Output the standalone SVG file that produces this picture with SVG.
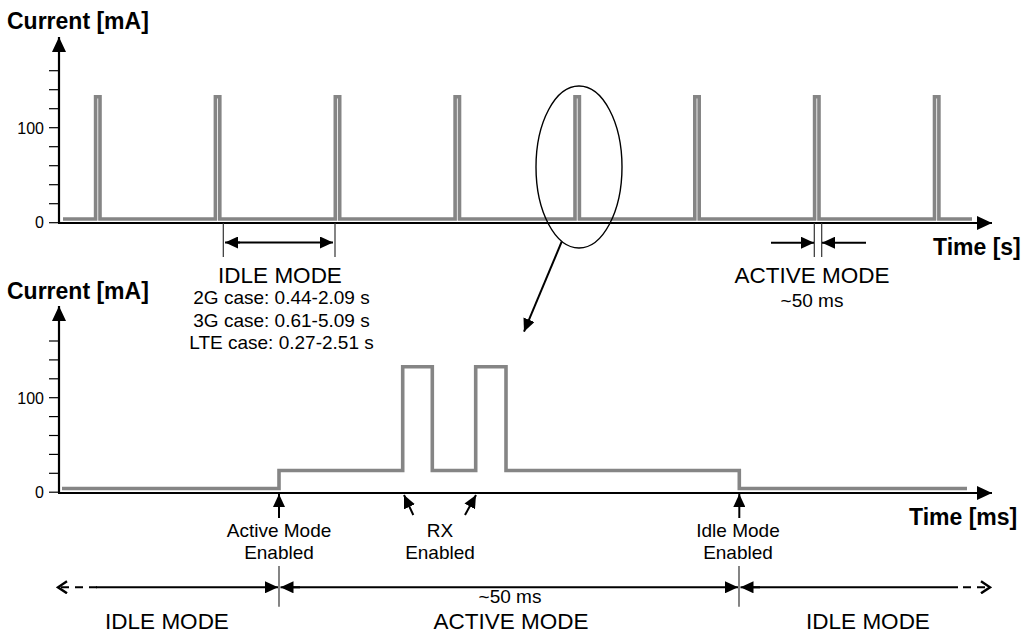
<svg xmlns="http://www.w3.org/2000/svg" width="1022" height="632" viewBox="0 0 1022 632">
<style>
text{font-family:"Liberation Sans",Arial,sans-serif;fill:#000}
.b{font-weight:bold;font-size:23px}
.big{font-size:22.5px;text-anchor:middle}
.sm{font-size:19px;text-anchor:middle}
.tk{font-size:16px;text-anchor:end}
.axis{stroke:#000;stroke-width:2.2;fill:none}
.tick{stroke:#000;stroke-width:1.2}
.sig{stroke:#858585;stroke-width:3.6;fill:none;stroke-linejoin:miter}
.thin{stroke:#333;stroke-width:1.2}
.arr{stroke:#000;stroke-width:2;fill:none}
.dash{stroke:#000;stroke-width:2;fill:none;stroke-dasharray:8,6}
</style>
<defs>
<marker id="ah" markerUnits="userSpaceOnUse" markerWidth="14" markerHeight="12" refX="13" refY="6" orient="auto"><path d="M0,0 L13,6 L0,12 z" fill="#000"/></marker>
<marker id="axh" markerUnits="userSpaceOnUse" markerWidth="16" markerHeight="14" refX="15" refY="7" orient="auto"><path d="M0,0 L15,7 L0,14 z" fill="#000"/></marker>
<marker id="oh" markerUnits="userSpaceOnUse" markerWidth="12" markerHeight="14" refX="10" refY="7" orient="auto"><path d="M1,1 L10,7 L1,13" fill="none" stroke="#000" stroke-width="2.4"/></marker>
</defs>

<g id="top-chart">
<text class="b" x="7" y="28.5">Current [mA]</text>
<line class="axis" x1="59" y1="223" x2="59" y2="37" marker-end="url(#axh)"/>
<line class="axis" x1="58" y1="223" x2="992" y2="223" marker-end="url(#axh)"/>
<g class="tick">
<line x1="49" y1="70.7" x2="59" y2="70.7"/><line x1="49" y1="89.7" x2="59" y2="89.7"/><line x1="49" y1="108.7" x2="59" y2="108.7"/><line x1="49" y1="127.7" x2="59" y2="127.7"/><line x1="49" y1="146.7" x2="59" y2="146.7"/><line x1="49" y1="165.7" x2="59" y2="165.7"/><line x1="49" y1="184.7" x2="59" y2="184.7"/><line x1="49" y1="203.7" x2="59" y2="203.7"/><line x1="49" y1="222.7" x2="59" y2="222.7"/>
</g>
<text class="tk" x="44" y="133.5">100</text>
<text class="tk" x="44" y="228">0</text>
<path class="sig" d="M63,219 H95.6 V96.8 H100 V219 H215.4 V96.8 H219.8 V219 H335.3 V96.8 H339.7 V219 H455.1 V96.8 H459.5 V219 H575 V96.8 H579.4 V219 H694.8 V96.8 H699.2 V219 H814.6 V96.8 H819 V219 H934.5 V96.8 H938.9 V219 H972"/>
<text class="b" x="933" y="255">Time [s]</text>
</g>

<g id="idle-mode-top">
<line class="thin" x1="223.3" y1="223" x2="223.3" y2="257"/>
<line class="thin" x1="335" y1="223" x2="335" y2="257"/>
<line class="arr" x1="240" y1="242.5" x2="225" y2="242.5" marker-end="url(#ah)"/>
<line class="arr" x1="230" y1="242.5" x2="333" y2="242.5" marker-end="url(#ah)"/>
<text class="big" x="280" y="283.3">IDLE MODE</text>
<text class="sm" x="281.5" y="304">2G case: 0.44-2.09 s</text>
<text class="sm" x="281.5" y="327">3G case: 0.61-5.09 s</text>
<text class="sm" x="281.5" y="349">LTE case: 0.27-2.51 s</text>
</g>

<g id="active-mode-top">
<line class="thin" x1="814.3" y1="223" x2="814.3" y2="257"/>
<line class="thin" x1="821.7" y1="223" x2="821.7" y2="257"/>
<line class="arr" x1="771" y1="242.7" x2="814" y2="242.7" marker-end="url(#ah)"/>
<line class="arr" x1="866" y1="242.7" x2="822" y2="242.7" marker-end="url(#ah)"/>
<text class="big" x="812" y="283.3">ACTIVE MODE</text>
<text class="sm" x="812" y="307">~50 ms</text>
</g>

<g id="zoom-callout">
<ellipse cx="579" cy="167" rx="43" ry="81" fill="none" stroke="#000" stroke-width="1.4"/>
<line class="arr" x1="561.7" y1="241.7" x2="524" y2="331.7" marker-end="url(#ah)"/>
</g>

<g id="bottom-chart">
<text class="b" x="7" y="299.3">Current [mA]</text>
<line class="axis" x1="59" y1="493" x2="59" y2="306" marker-end="url(#axh)"/>
<line class="axis" x1="58" y1="493" x2="992" y2="493" marker-end="url(#axh)"/>
<g class="tick">
<line x1="49" y1="341" x2="59" y2="341"/><line x1="49" y1="359.9" x2="59" y2="359.9"/><line x1="49" y1="378.8" x2="59" y2="378.8"/><line x1="49" y1="397.7" x2="59" y2="397.7"/><line x1="49" y1="416.6" x2="59" y2="416.6"/><line x1="49" y1="435.5" x2="59" y2="435.5"/><line x1="49" y1="454.4" x2="59" y2="454.4"/><line x1="49" y1="473.3" x2="59" y2="473.3"/><line x1="49" y1="492.2" x2="59" y2="492.2"/>
</g>
<text class="tk" x="44" y="403.5">100</text>
<text class="tk" x="44" y="497.5">0</text>
<path class="sig" d="M62,488.5 H279 V470.5 H402.7 V366.7 H432.3 V470.5 H475.7 V366.7 H506 V470.5 H739.3 V488.5 H967"/>
<text class="b" x="909" y="525">Time [ms]</text>
</g>

<g id="active-mode-enabled">
<line class="arr" x1="279" y1="518" x2="279" y2="494" marker-end="url(#ah)"/>
<text class="sm" x="279" y="537">Active Mode</text>
<text class="sm" x="279" y="559">Enabled</text>
</g>
<g id="rx-enabled">
<line class="arr" x1="413.3" y1="515" x2="404" y2="495" marker-end="url(#ah)"/>
<line class="arr" x1="465" y1="515" x2="476" y2="495" marker-end="url(#ah)"/>
<text class="sm" x="440" y="537">RX</text>
<text class="sm" x="440" y="559">Enabled</text>
</g>
<g id="idle-mode-enabled">
<line class="arr" x1="739.3" y1="518" x2="739.3" y2="494" marker-end="url(#ah)"/>
<text class="sm" x="738" y="537">Idle Mode</text>
<text class="sm" x="738" y="559">Enabled</text>
</g>

<g id="timeline">
<line class="thin" x1="279" y1="566" x2="279" y2="606.7"/>
<line class="thin" x1="739" y1="566" x2="739" y2="606.7"/>
<line class="dash" x1="97" y1="587.3" x2="58" y2="587.3" marker-end="url(#oh)"/>
<line class="arr" x1="96" y1="587.3" x2="278" y2="587.3" marker-end="url(#ah)"/>
<line class="arr" x1="300" y1="587.3" x2="280.5" y2="587.3" marker-end="url(#ah)"/>
<line class="arr" x1="290" y1="587.3" x2="738" y2="587.3" marker-end="url(#ah)"/>
<line class="arr" x1="760" y1="587.3" x2="740.5" y2="587.3" marker-end="url(#ah)"/>
<line class="arr" x1="750" y1="587.3" x2="958" y2="587.3"/>
<line class="dash" x1="963" y1="587.3" x2="990" y2="587.3" stroke-dasharray="10,20" marker-end="url(#oh)"/>
<text class="big" x="167" y="628.5">IDLE MODE</text>
<text class="sm" x="510" y="603">~50 ms</text>
<text class="big" x="511" y="628.5">ACTIVE MODE</text>
<text class="big" x="868" y="628.5">IDLE MODE</text>
</g>
</svg>
